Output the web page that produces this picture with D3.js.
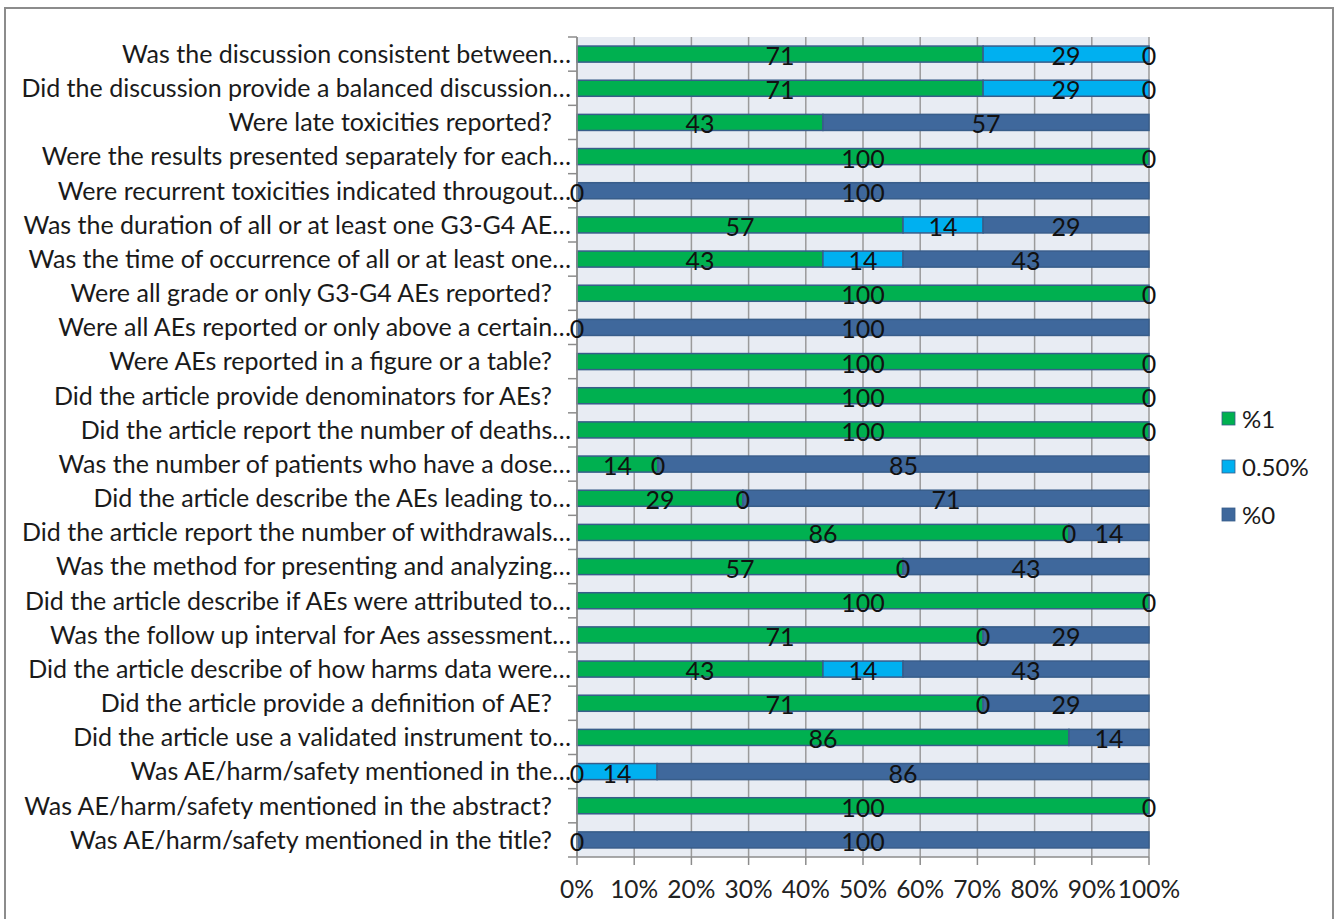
<!DOCTYPE html>
<html>
<head>
<meta charset="utf-8">
<script src="https://cdn.jsdelivr.net/npm/d3@7/dist/d3.min.js"></script>
<style>
  html, body { margin: 0; padding: 0; background: #fff; }
  svg text { font-family: Lato, "Open Sans", sans-serif; }
</style>
</head>
<body>
<svg id="chart" width="1340" height="919"></svg>
<script>
// Questions, top to bottom
const categories = [
  "Was the discussion consistent between…",
  "Did the discussion provide a balanced discussion…",
  "Were late toxicities reported?",
  "Were the results presented separately for each…",
  "Were recurrent toxicities indicated througout…",
  "Was the duration of all or at least one G3-G4 AE…",
  "Was the time of occurrence of all or at least one…",
  "Were all grade or only G3-G4 AEs reported?",
  "Were all AEs reported or only above a certain…",
  "Were AEs reported in a figure or a table?",
  "Did the article provide denominators for AEs?",
  "Did the article report the number of deaths…",
  "Was the number of patients who have a dose…",
  "Did the article describe the AEs leading to…",
  "Did the article report the number of withdrawals…",
  "Was the method for presenting and analyzing…",
  "Did the article describe if AEs were attributed to…",
  "Was the follow up interval for Aes assessment…",
  "Did the article describe of how harms data were…",
  "Did the article provide a definition of AE?",
  "Did the article use a validated instrument to…",
  "Was AE/harm/safety mentioned in the…",
  "Was AE/harm/safety mentioned in the abstract?",
  "Was AE/harm/safety mentioned in the title?"
];

// Series values (percent of articles); null = no value recorded
const seriesNames = ["%1", "0.50%", "%0"];
const score1    = [71, 71, 43, 100, 0, 57, 43, 100, 0, 100, 100, 100, 14, 29, 86, 57, 100, 71, 43, 71, 86, 0, 100, 0];
const scoreHalf = [29, 29, null, null, null, 14, 14, null, null, null, null, null, 0, 0, 0, 0, null, 0, 14, 0, null, 14, null, null];
const score0    = [0, 0, 57, 0, 100, 29, 43, 0, 100, 0, 0, 0, 85, 71, 14, 43, 0, 29, 43, 29, 14, 86, 0, 100];

const xTicks = [0, 0.1, 0.2, 0.3, 0.4, 0.5, 0.6, 0.7, 0.8, 0.9, 1];

const colors = ["#00B050", "#00B0F0", "#3F689C"];
const seriesValues = [score1, scoreHalf, score0];

const svg = d3.select("#chart");

// outer chart frame
svg.append("rect")
  .attr("x", 5).attr("y", 8)
  .attr("width", 1328).attr("height", 930)
  .attr("fill", "#fff").attr("stroke", "#8c8c8c").attr("stroke-width", 2);

const plot = { left: 577, right: 1149, top: 37, bottom: 857 };

const x = d3.scaleLinear().domain([0, 1]).range([plot.left, plot.right]);
const y = d3.scaleBand()
  .domain(categories)
  .range([plot.top, plot.bottom])
  .paddingInner(0.53)
  .paddingOuter(0.265);
const step = y.step();

// plot background
svg.append("rect")
  .attr("x", plot.left).attr("y", plot.top)
  .attr("width", plot.right - plot.left).attr("height", plot.bottom - plot.top)
  .attr("fill", "#E8ECF3");

// vertical gridlines
svg.append("g").selectAll("line")
  .data(xTicks)
  .join("line")
  .attr("x1", d => x(d)).attr("x2", d => x(d))
  .attr("y1", plot.top).attr("y2", plot.bottom)
  .attr("stroke", "#9a9a9a").attr("stroke-width", 1.5);

// stacked rows, normalised to 100%
const rows = categories.map((c, i) => {
  const vals = seriesValues.map(s => s[i]);
  const total = d3.sum(vals.filter(v => v != null));
  let acc = 0;
  return vals.map((v, k) => {
    const start = acc / total;
    if (v != null) acc += v;
    return { cat: c, k, v, x0: start, x1: acc / total };
  });
});
const segments = rows.flat();

svg.append("g").selectAll("rect")
  .data(segments.filter(d => d.v != null && d.v > 0))
  .join("rect")
  .attr("x", d => x(d.x0))
  .attr("y", d => y(d.cat))
  .attr("width", d => x(d.x1) - x(d.x0))
  .attr("height", y.bandwidth())
  .attr("fill", d => colors[d.k])
  .attr("stroke", "#385D8A")
  .attr("stroke-width", 1.5);

// axis lines
const axisColor = "#8c8c8c";
svg.append("line")
  .attr("x1", plot.left).attr("x2", plot.left)
  .attr("y1", plot.top).attr("y2", plot.bottom)
  .attr("stroke", axisColor).attr("stroke-width", 1.5);
svg.append("line")
  .attr("x1", plot.left).attr("x2", plot.right)
  .attr("y1", plot.bottom).attr("y2", plot.bottom)
  .attr("stroke", axisColor).attr("stroke-width", 1.5);

// category tick marks at band boundaries
const boundaries = d3.range(categories.length + 1).map(i => plot.top + i * step);
svg.append("g").selectAll("line")
  .data(boundaries)
  .join("line")
  .attr("x1", plot.left - 9).attr("x2", plot.left)
  .attr("y1", d => d).attr("y2", d => d)
  .attr("stroke", axisColor).attr("stroke-width", 1.5);

// x tick marks
svg.append("g").selectAll("line")
  .data(xTicks)
  .join("line")
  .attr("x1", d => x(d)).attr("x2", d => x(d))
  .attr("y1", plot.bottom).attr("y2", plot.bottom + 8)
  .attr("stroke", axisColor).attr("stroke-width", 1.5);

// x tick labels
svg.append("g").selectAll("text")
  .data(xTicks)
  .join("text")
  .attr("x", d => x(d))
  .attr("y", plot.bottom + 41)
  .attr("text-anchor", "middle")
  .attr("font-size", 24.5)
  .attr("fill", "#222")
  .text(d => d3.format(".0%")(d));

// category labels
svg.append("g").selectAll("text")
  .data(categories)
  .join("text")
  .attr("x", d => d.endsWith("?") ? plot.left - 25 : plot.left - 6)
  .attr("y", d => y(d) + y.bandwidth() / 2)
  .attr("dy", "0.35em")
  .attr("text-anchor", "end")
  .attr("font-size", 25)
  .attr("fill", "#1a1a1a")
  .text(d => d);

// value labels centred in each segment
svg.append("g").selectAll("text")
  .data(segments.filter(d => d.v != null))
  .join("text")
  .attr("x", d => x((d.x0 + d.x1) / 2))
  .attr("y", d => y(d.cat) + y.bandwidth() / 2 + 2)
  .attr("dy", "0.36em")
  .attr("text-anchor", "middle")
  .attr("font-size", 25)
  .attr("fill", "#111")
  .text(d => d.v);

// legend
const legend = svg.append("g")
  .selectAll("g")
  .data(seriesNames)
  .join("g")
  .attr("transform", (d, i) => `translate(1222, ${419 + i * 48})`);
legend.append("rect")
  .attr("x", 0).attr("y", -7)
  .attr("width", 13).attr("height", 13)
  .attr("fill", (d, i) => colors[i])
  .attr("stroke", "#385D8A").attr("stroke-width", 0.8);
legend.append("text")
  .attr("x", 20).attr("y", 0)
  .attr("dy", "0.36em")
  .attr("font-size", 24)
  .attr("fill", "#1a1a1a")
  .text(d => d);
</script>
</body>
</html>
